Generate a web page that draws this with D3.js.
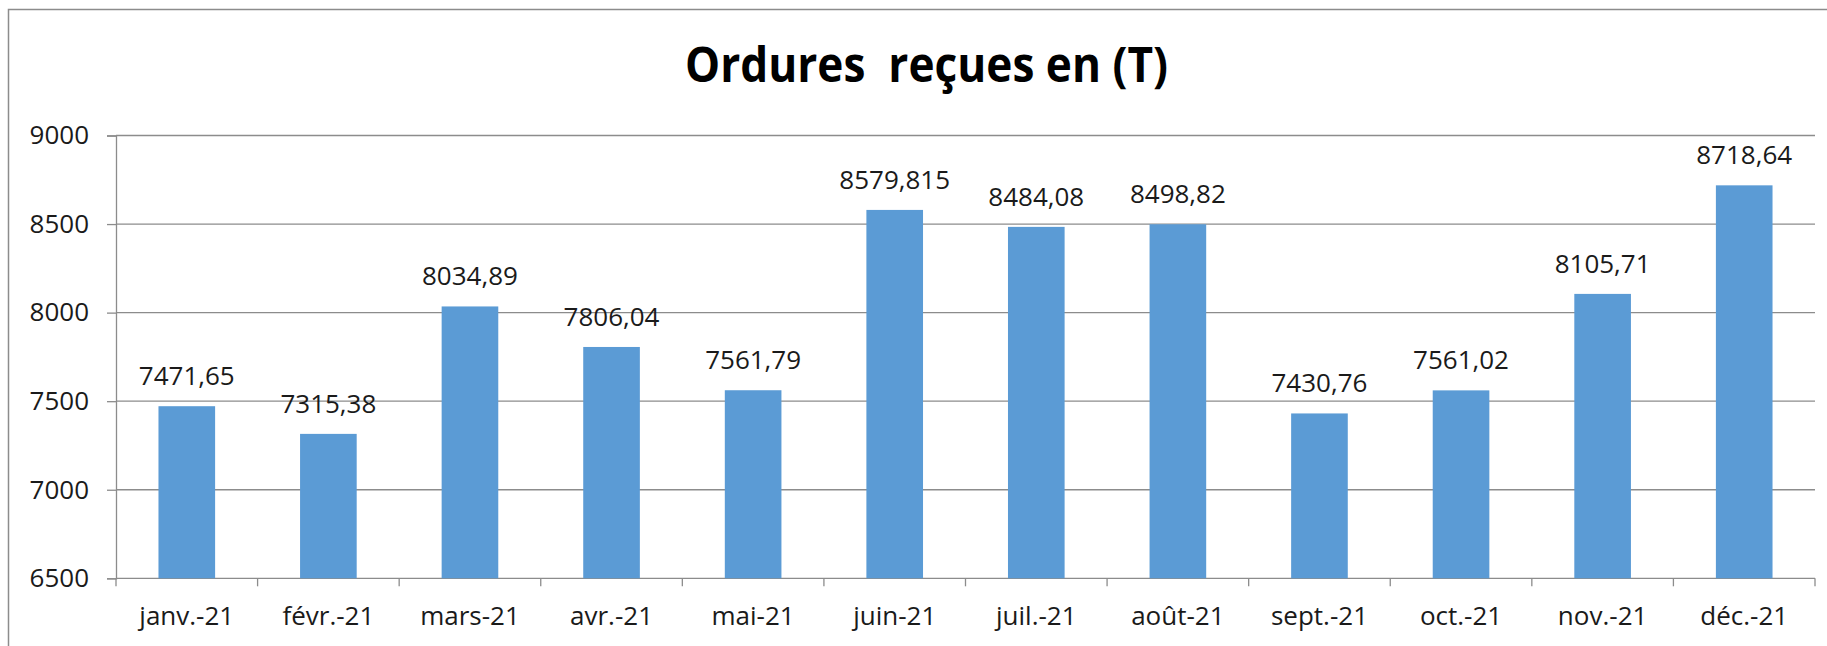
<!DOCTYPE html>
<html>
<head>
<meta charset="utf-8">
<script src="https://cdn.jsdelivr.net/npm/d3@7"></script>
<style>
  body { margin: 0; background: #fff; }
  svg text { font-family: "Open Sans", "Noto Sans", sans-serif; }
</style>
</head>
<body>
<div class="graphics"></div>
<script>
// donnees du graphique
const mois = ["janv.-21", "févr.-21", "mars-21", "avr.-21", "mai-21", "juin-21",
  "juil.-21", "août-21", "sept.-21", "oct.-21", "nov.-21", "déc.-21"];
const tonnes = [7471.65, 7315.38, 8034.89, 7806.04, 7561.79, 8579.815,
  8484.08, 8498.82, 7430.76, 7561.02, 8105.71, 8718.64];
const etiquettes = ["7471,65", "7315,38", "8034,89", "7806,04", "7561,79", "8579,815",
  "8484,08", "8498,82", "7430,76", "7561,02", "8105,71", "8718,64"];
const yTicks = [6500, 7000, 7500, 8000, 8500, 9000];
const titre = "Ordures  reçues en (T)";

const width = 1827;
const height = 646;
const margin = { top: 135.5, bottom: 646 - 578.3, left: 116, right: 1827 - 1815 };

const svg = d3.select('.graphics')
  .append('svg')
  .attr('width', width)
  .attr('height', height);

// cadre
svg.append('rect')
  .attr('x', 8.5).attr('y', 9.5)
  .attr('width', width + 10).attr('height', height + 10)
  .attr('fill', 'none')
  .attr('stroke', '#8c8c8c')
  .attr('stroke-width', 1.5);

const x = d3.scaleBand()
  .domain(mois)
  .range([margin.left, width - margin.right])
  .paddingInner(0.6)
  .paddingOuter(0.3);

const y = d3.scaleLinear()
  .domain([6500, 9000])
  .range([height - margin.bottom, margin.top]);

// grille + axe y
const yAxis = svg.append('g')
  .attr('transform', `translate(${margin.left},0)`)
  .call(d3.axisLeft(y).tickValues(yTicks).tickSize(9).tickPadding(18)
    .tickFormat(d3.format('d')));
yAxis.select('.domain').attr('stroke', '#8c8c8c').attr('stroke-width', 1.3);
yAxis.selectAll('.tick line').attr('stroke', '#8c8c8c').attr('stroke-width', 1.3);
yAxis.selectAll('.tick text')
  .attr('font-size', 26).attr('fill', '#1a1a1a')
  .attr('font-family', '"Open Sans", sans-serif');

svg.append('g')
  .selectAll('line')
  .data(yTicks.filter(d => d > 6500))
  .join('line')
  .attr('x1', margin.left)
  .attr('x2', width - margin.right)
  .attr('y1', d => y(d))
  .attr('y2', d => y(d))
  .attr('stroke', '#8c8c8c')
  .attr('stroke-width', 1.3);

// axe x
const step = x.step();
const bornes = d3.range(mois.length + 1).map(i => margin.left + i * step);
svg.append('line')
  .attr('x1', margin.left).attr('x2', width - margin.right)
  .attr('y1', y(6500)).attr('y2', y(6500))
  .attr('stroke', '#8c8c8c').attr('stroke-width', 1.3);
svg.append('g')
  .selectAll('line')
  .data(bornes)
  .join('line')
  .attr('x1', d => d).attr('x2', d => d)
  .attr('y1', y(6500)).attr('y2', y(6500) + 8)
  .attr('stroke', '#8c8c8c').attr('stroke-width', 1.3);

svg.append('g')
  .selectAll('text')
  .data(mois)
  .join('text')
  .attr('x', d => x(d) + x.bandwidth() / 2)
  .attr('y', 625)
  .attr('text-anchor', 'middle')
  .attr('font-size', 26)
  .attr('fill', '#1a1a1a')
  .text(d => d);

// barres
svg.append('g')
  .attr('fill', '#5b9bd5')
  .selectAll('rect')
  .data(tonnes)
  .join('rect')
  .attr('x', (d, i) => x(mois[i]))
  .attr('y', d => y(d))
  .attr('height', d => y(6500) - y(d))
  .attr('width', x.bandwidth());

// etiquettes
svg.append('g')
  .selectAll('text')
  .data(tonnes)
  .join('text')
  .attr('x', (d, i) => x(mois[i]) + x.bandwidth() / 2)
  .attr('y', d => y(d) - 21)
  .attr('text-anchor', 'middle')
  .attr('font-size', 26)
  .attr('fill', '#1a1a1a')
  .text((d, i) => etiquettes[i]);

// titre
svg.append('text')
  .attr('x', 926.5)
  .attr('y', 82)
  .attr('text-anchor', 'middle')
  .attr('font-size', 49)
  .attr('font-weight', 'bold')
  .attr('fill', '#000')
  .attr('textLength', 483)
  .attr('lengthAdjust', 'spacingAndGlyphs')
  .style('white-space', 'pre')
  .text(titre);
</script>
</body>
</html>
